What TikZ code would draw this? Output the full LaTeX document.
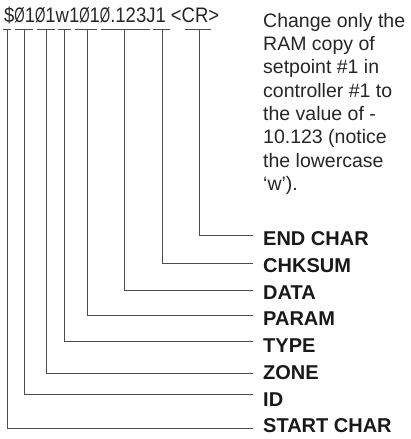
\documentclass[tikz,border=0pt]{standalone}
\usepackage{fontspec}
\usepackage{graphicx}
\setmainfont{Liberation Sans}
\newfontfamily\cmdfont[FakeStretch=0.88]{Liberation Sans}
\newcommand{\slz}{\scalebox{0.72}[1]{Ø}}

\begin{document}
\begin{tikzpicture}[x=1pt,y=-1pt,
  lead/.style={draw=black!70, line width=0.9pt},
  lbl/.style={anchor=west, inner sep=0pt, text=black!90,
    font=\fontsize{20}{24}\selectfont\bfseries}]
\useasboundingbox (0,0) rectangle (411,439);

% command string and note
\node[anchor=base west, inner sep=0pt, text=black!85,
  font=\fontsize{21}{24}\selectfont\cmdfont] (cmd) at (4,22)
  {\$\slz1\slz1w1\slz1\slz.123J1 <CR>};
\node[anchor=north west, inner sep=0pt, align=left, text=black!85,
  font=\fontsize{19.5}{23.3}\selectfont] (note) at (263,13)
  {Change only the\\RAM copy of\\setpoint \#1 in\\controller \#1 to\\the value of -\\10.123 (notice\\the lowercase\\‘w’).};

% field labels
\node[lbl] (endchar) at (263,238.5) {END CHAR};
\node[lbl] (chksum) at (263,265.5) {CHKSUM};
\node[lbl] (data) at (263,292.5) {DATA};
\node[lbl] (param) at (263,318.5) {PARAM};
\node[lbl] (type) at (263,345.5) {TYPE};
\node[lbl] (zone) at (263,373) {ZONE};
\node[lbl] (id) at (263,400) {ID};
\node[lbl] (startchar) at (263,425.5) {START CHAR};

% brackets under the fields
\draw[lead] (3,29) -- (11,29);
\draw[lead] (15,29) -- (33,29);
\draw[lead] (37,29) -- (55,29);
\draw[lead] (58,29) -- (71,29);
\draw[lead] (75,29) -- (97,29);
\draw[lead] (101,29) -- (150,29);
\draw[lead] (153,29) -- (170,29);
\draw[lead] (185,29) -- (211,29);
\coordinate (tStart) at (7,29);
\coordinate (tId) at (24,29);
\coordinate (tZone) at (46,29);
\coordinate (tType) at (64,29);
\coordinate (tParam) at (87,29);
\coordinate (tData) at (124,29);
\coordinate (tChk) at (162,29);
\coordinate (tEnd) at (199,29);

% line ends left of the labels
\coordinate (eEnd) at (253,235);
\coordinate (eChk) at (253,263);
\coordinate (eData) at (253,290);
\coordinate (eParam) at (253,315);
\coordinate (eType) at (253,341);
\coordinate (eZone) at (253,373);
\coordinate (eId) at (253,394);
\coordinate (eStart) at (253,428);

\draw[lead] (tEnd) |- (eEnd);
\draw[lead] (tChk) |- (eChk);
\draw[lead] (tData) |- (eData);
\draw[lead] (tParam) |- (eParam);
\draw[lead] (tType) |- (eType);
\draw[lead] (tZone) |- (eZone);
\draw[lead] (tId) |- (eId);
\draw[lead] (tStart) |- (eStart);
\end{tikzpicture}
\end{document}
